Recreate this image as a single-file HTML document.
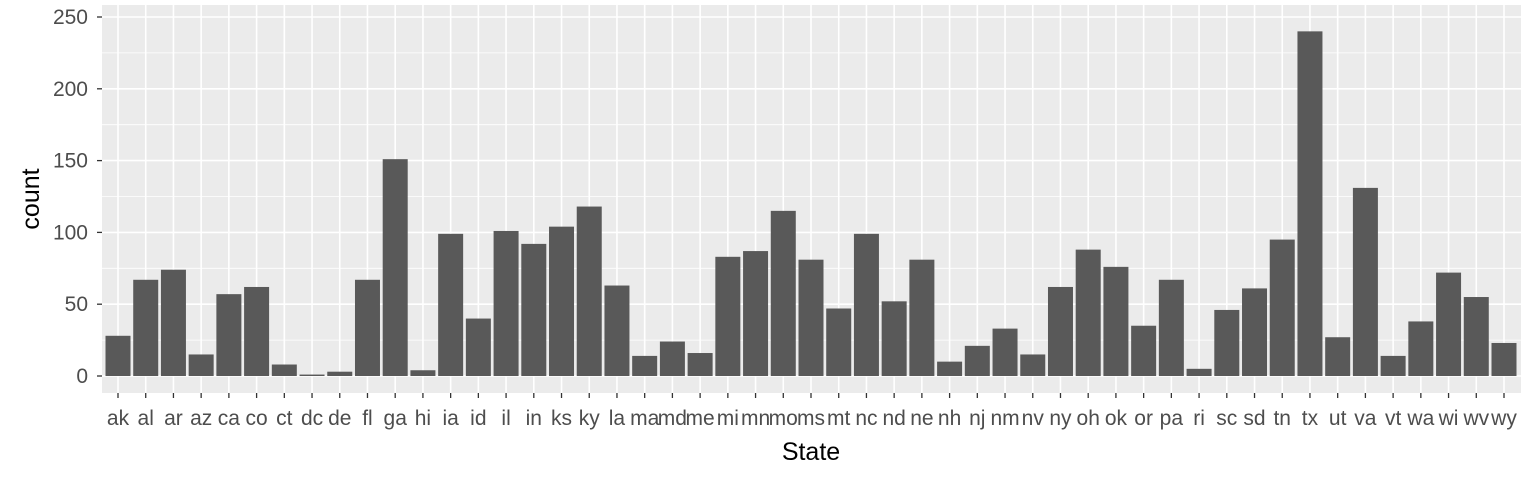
<!DOCTYPE html>
<html><head><meta charset="utf-8"><style>
body{margin:0;background:#fff;}
svg text{font-family:"Liberation Sans",Arial,sans-serif;}
</style></head><body>
<svg id="chart" width="1536" height="480" xmlns="http://www.w3.org/2000/svg">
<rect x="102" y="5" width="1419" height="388" fill="#ebebeb"/>
<g id="grid"></g><g id="bars"></g><g id="axes"></g>
<text x="811" y="460" font-size="25" text-anchor="middle" fill="#000">State</text>
<text transform="translate(39,199) rotate(-90)" font-size="25" text-anchor="middle" fill="#000">count</text>
</svg>
<script>
const states=["ak","al","ar","az","ca","co","ct","dc","de","fl","ga","hi","ia","id","il","in","ks","ky","la","ma","md","me","mi","mn","mo","ms","mt","nc","nd","ne","nh","nj","nm","nv","ny","oh","ok","or","pa","ri","sc","sd","tn","tx","ut","va","vt","wa","wi","wv","wy"];
const counts=[28,67,74,15,57,62,8,1,3,67,151,4,99,40,101,92,104,118,63,14,24,16,83,87,115,81,47,99,52,81,10,21,33,15,62,88,76,35,67,5,46,61,95,240,27,131,14,38,72,55,23];
const yTicks=[0,50,100,150,200,250];
const NS="http://www.w3.org/2000/svg";
const x0=118,step=(1504-118)/50,bw=25;
function xs(i){return x0+i*step;}
function ys(v){return 376-v*(376-17)/250;}
const grid=document.getElementById('grid'),bars=document.getElementById('bars'),axes=document.getElementById('axes');
function mk(tag,attrs,parent){const e=document.createElementNS(NS,tag);for(const k in attrs)e.setAttribute(k,attrs[k]);parent.appendChild(e);return e;}
for(let t=25;t<=250;t+=50){
 const l=mk('line',{x1:102,x2:1521,y1:ys(t),y2:ys(t),stroke:'#fff','stroke-width':0.8},grid);
 
 
}
yTicks.forEach(t=>{
 const l=mk('line',{x1:102,x2:1521,y1:ys(t),y2:ys(t),stroke:'#fff','stroke-width':1.6},grid);
 
 
 const tk=mk('line',{x1:97,x2:102,y1:ys(t),y2:ys(t),stroke:'#333','stroke-width':1.3},axes);
 
 
 const tx=mk('text',{x:88,y:ys(t)+7,'font-size':21,'text-anchor':'end',fill:'#4d4d4d'},axes);
 tx.textContent=t;
 
 
});
states.forEach((s,i)=>{
 const x=xs(i);
 const g=mk('line',{x1:x,x2:x,y1:5,y2:393,stroke:'#fff','stroke-width':1.6},grid);
 
 
 const b=mk('rect',{x:x-bw/2,y:ys(counts[i]),width:bw,height:ys(0)-ys(counts[i]),fill:'#595959'},bars);
 
 
 const tk=mk('line',{x1:x,x2:x,y1:393,y2:398,stroke:'#333','stroke-width':1.3},axes);
 
 
 const tx=mk('text',{x:x,y:425,'font-size':21,'text-anchor':'middle',fill:'#4d4d4d'},axes);
 tx.textContent=s;
 
 
});
</script>
</body></html>
